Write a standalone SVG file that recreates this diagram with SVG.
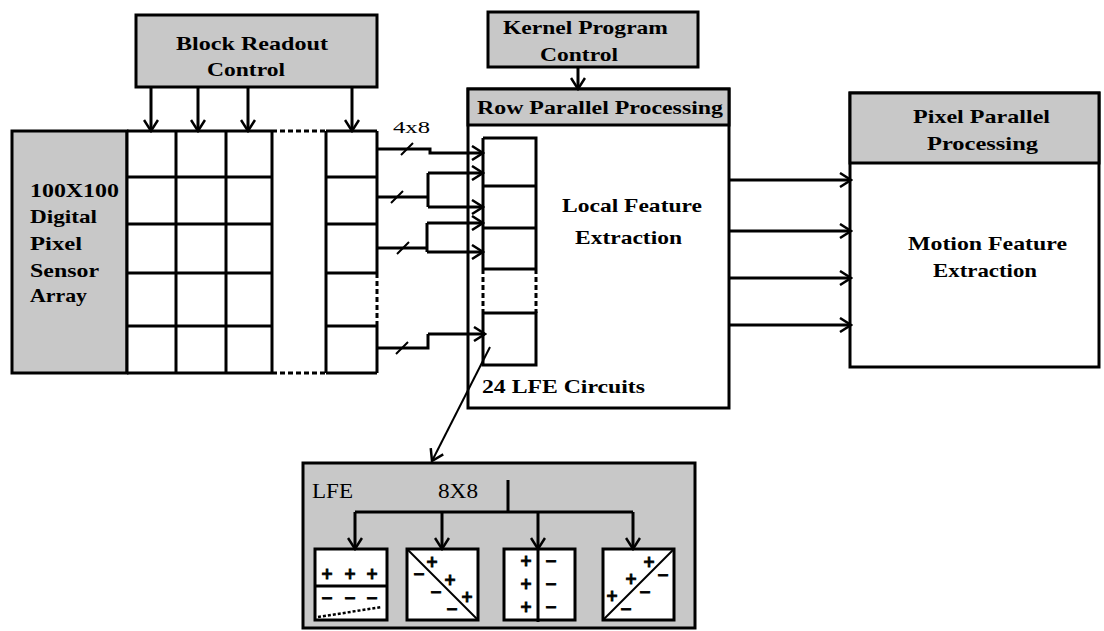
<svg xmlns="http://www.w3.org/2000/svg" width="1104" height="631" viewBox="0 0 1104 631">
<style>
.bx{fill:#fff;stroke:#000;stroke-width:3}
.gr{fill:#c8c8c8;stroke:#000;stroke-width:3}
.ln{fill:none;stroke:#000;stroke-width:3}
.th{fill:none;stroke:#000;stroke-width:2}
.dt{fill:none;stroke:#000;stroke-width:3;stroke-dasharray:5 3}
.t{font-family:"Liberation Serif","Times New Roman",serif;font-weight:bold;font-size:19px;fill:#000}
.tn{font-family:"Liberation Serif","Times New Roman",serif;font-size:19px;fill:#000}
.s{font-family:"DejaVu Sans","Liberation Sans",sans-serif;font-weight:bold;font-size:15px;fill:#000;stroke:#000;stroke-width:0.8;text-anchor:middle}
</style>
<defs>
<marker id="ah" markerUnits="userSpaceOnUse" markerWidth="16" markerHeight="16" viewBox="0 0 16 16" refX="14" refY="8" orient="auto">
<path d="M3,1 L14,8 L3,15" fill="none" stroke="#000" stroke-width="2.5"/>
</marker>
</defs>

<g id="block-readout">
<rect class="gr" x="136" y="15" width="241" height="72"/>
<text class="t" x="176" y="50" textLength="152" lengthAdjust="spacingAndGlyphs">Block Readout</text>
<text class="t" x="207" y="76" textLength="78" lengthAdjust="spacingAndGlyphs">Control</text>
</g>

<g id="kernel-control">
<rect class="gr" x="488" y="12" width="210" height="55"/>
<text class="t" x="503" y="34" textLength="165" lengthAdjust="spacingAndGlyphs">Kernel Program</text>
<text class="t" x="540" y="61" textLength="78" lengthAdjust="spacingAndGlyphs">Control</text>
</g>

<g id="sensor-array">
<rect class="gr" x="12" y="131" width="115" height="242"/>
<text class="t" x="30" y="197" textLength="89" lengthAdjust="spacingAndGlyphs">100X100</text>
<text class="t" x="30" y="223" textLength="67" lengthAdjust="spacingAndGlyphs">Digital</text>
<text class="t" x="30" y="250" textLength="52" lengthAdjust="spacingAndGlyphs">Pixel</text>
<text class="t" x="30" y="277" textLength="69" lengthAdjust="spacingAndGlyphs">Sensor</text>
<text class="t" x="30" y="302" textLength="57" lengthAdjust="spacingAndGlyphs">Array</text>
<rect x="127" y="131" width="145" height="242" fill="#fff"/>
<rect x="326" y="131" width="51" height="242" fill="#fff"/>
<path class="ln" d="M127,131V373M176,131V373M226,131V373M272,131V373M326,131V373M377,131V273M377,326V373"/>
<path class="ln" d="M127,131H272M127,177H272M127,224H272M127,273H272M127,326H272M127,373H272"/>
<path class="ln" d="M326,131H377M326,177H377M326,224H377M326,273H377M326,326H377M326,373H377"/>
<path class="dt" d="M272,131H326M272,373H326M377,273V326"/>
</g>

<g id="row-parallel">
<rect class="bx" x="468" y="89" width="261" height="319"/>
<rect class="gr" x="468" y="89" width="261" height="36"/>
<text class="t" x="477" y="114" textLength="246" lengthAdjust="spacingAndGlyphs" style="font-size:18px">Row Parallel Processing</text>
<text class="t" x="562" y="212" textLength="140" lengthAdjust="spacingAndGlyphs">Local Feature</text>
<text class="t" x="575" y="244" textLength="107" lengthAdjust="spacingAndGlyphs">Extraction</text>
<text class="t" x="482" y="393" textLength="163" lengthAdjust="spacingAndGlyphs">24 LFE Circuits</text>
<path class="ln" d="M483,138H536V269M483,138V269M483,186H536M483,228H536M483,269H536M483,313H536V365H483V313"/>
<path class="dt" d="M483,269V313M536,269V313"/>
</g>

<g id="pixel-parallel">
<rect class="bx" x="850" y="93" width="249" height="274"/>
<rect class="gr" x="850" y="93" width="249" height="70"/>
<text class="t" x="913" y="123" textLength="137" lengthAdjust="spacingAndGlyphs">Pixel Parallel</text>
<text class="t" x="927" y="150" textLength="111" lengthAdjust="spacingAndGlyphs">Processing</text>
<text class="t" x="908" y="250" textLength="159" lengthAdjust="spacingAndGlyphs">Motion Feature</text>
<text class="t" x="933" y="277" textLength="104" lengthAdjust="spacingAndGlyphs">Extraction</text>
</g>

<g id="lfe-detail">
<rect class="gr" x="303" y="463" width="392" height="165"/>
<text class="tn" x="312" y="498" textLength="41" lengthAdjust="spacingAndGlyphs" style="font-size:20px">LFE</text>
<text class="tn" x="438" y="498" textLength="40" lengthAdjust="spacingAndGlyphs" style="font-size:20px">8X8</text>
<rect class="bx" x="315" y="549" width="72" height="71"/>
<path class="ln" d="M315,586H387"/>
<path fill="none" stroke="#000" stroke-width="2.5" stroke-dasharray="3 2" d="M318,617L382,607"/>
<rect class="bx" x="407" y="549" width="71" height="71"/>
<path class="th" d="M407,549L478,620"/>
<rect class="bx" x="504" y="549" width="71" height="71"/>
<rect class="bx" x="603" y="549" width="71" height="71"/>
<path class="th" d="M603,620L674,549"/>
<g>
<text class="s" x="327" y="579">+</text><text class="s" x="350" y="579">+</text><text class="s" x="372" y="579">+</text>
<text class="s" x="327" y="603">−</text><text class="s" x="350" y="603">−</text><text class="s" x="372" y="603">−</text>
<text class="s" x="432" y="567">+</text><text class="s" x="450" y="585">+</text><text class="s" x="467" y="602">+</text>
<text class="s" x="419" y="579">−</text><text class="s" x="436" y="597">−</text><text class="s" x="452" y="614">−</text>
<text class="s" x="526" y="566">+</text><text class="s" x="526" y="589">+</text><text class="s" x="526" y="612">+</text>
<text class="s" x="551" y="566">−</text><text class="s" x="551" y="589">−</text><text class="s" x="551" y="612">−</text>
<text class="s" x="612" y="601">+</text><text class="s" x="631" y="584">+</text><text class="s" x="649" y="567">+</text>
<text class="s" x="626" y="614">−</text><text class="s" x="645" y="597">−</text><text class="s" x="663" y="580">−</text>
</g>
</g>

<g id="connectors">
<path class="ln" marker-end="url(#ah)" d="M151,87V131"/>
<path class="ln" marker-end="url(#ah)" d="M198,87V131"/>
<path class="ln" marker-end="url(#ah)" d="M248,87V131"/>
<path class="ln" marker-end="url(#ah)" d="M352,87V131"/>
<path class="ln" marker-end="url(#ah)" d="M578,67V89"/>
<text class="tn" x="393" y="133" textLength="37" lengthAdjust="spacingAndGlyphs" style="font-size:17px">4x8</text>
<path class="ln" marker-end="url(#ah)" d="M377,149H430V153H483"/>
<path class="ln" marker-end="url(#ah)" d="M428,173H483"/>
<path class="ln" d="M377,197H428M428,173V207"/>
<path class="ln" marker-end="url(#ah)" d="M428,207H483"/>
<path class="ln" marker-end="url(#ah)" d="M427,223H483"/>
<path class="ln" d="M377,248H427M427,223V252"/>
<path class="ln" marker-end="url(#ah)" d="M427,252H483"/>
<path class="ln" d="M377,348H428V334"/>
<path class="ln" marker-end="url(#ah)" d="M428,334H485"/>
<path class="th" d="M401,155L413,143M391,203L403,191M397,254L409,242M396,354L408,342"/>
<path class="th" marker-end="url(#ah)" d="M490,347L432,461"/>
<path class="ln" marker-end="url(#ah)" d="M729,180H851"/>
<path class="ln" marker-end="url(#ah)" d="M729,231H851"/>
<path class="ln" marker-end="url(#ah)" d="M729,278H851"/>
<path class="ln" marker-end="url(#ah)" d="M729,325H851"/>
<path class="ln" d="M508,480V512M355,512H633"/>
<path class="ln" marker-end="url(#ah)" d="M355,512V549"/>
<path class="ln" marker-end="url(#ah)" d="M442,512V549"/>
<path class="ln" marker-end="url(#ah)" d="M538,512V549"/>
<path class="ln" d="M538,549V622"/>
<path class="ln" marker-end="url(#ah)" d="M633,512V549"/>
</g>
</svg>
